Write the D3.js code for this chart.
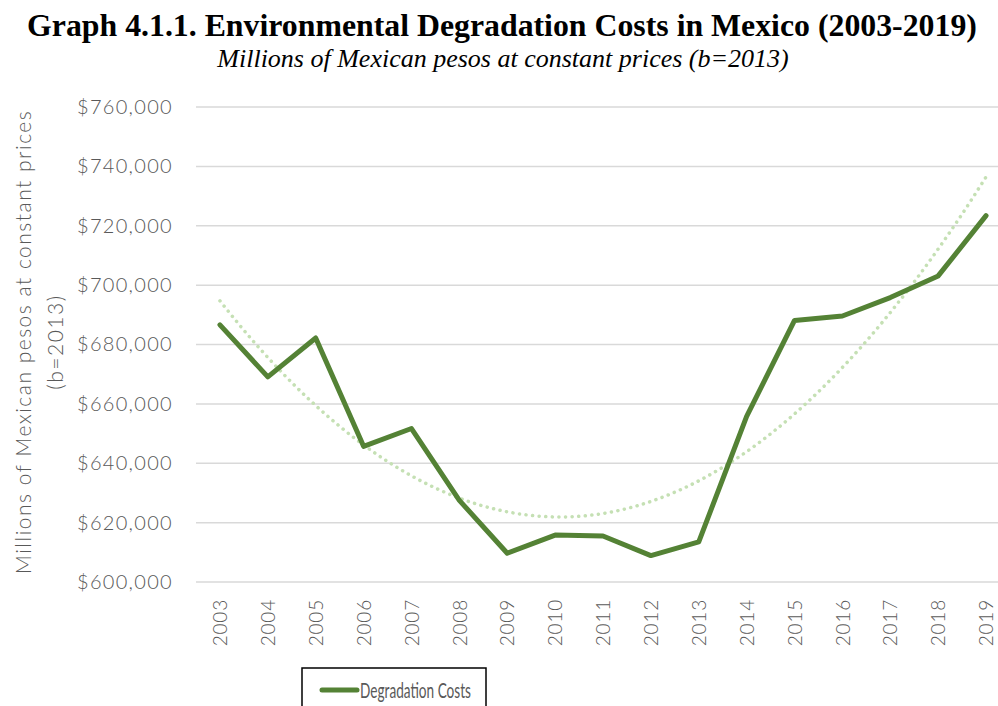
<!DOCTYPE html>
<html>
<head>
<meta charset="utf-8">
<script src="https://cdn.jsdelivr.net/npm/d3@7"></script>
<style>
  body{margin:0;background:#fff;}
  svg text{font-family:Lato,"DejaVu Sans",sans-serif;font-weight:300;fill:#595959;}
</style>
</head>
<body>
<svg width="998" height="706"></svg>
<script>
const years=[2003,2004,2005,2006,2007,2008,2009,2010,2011,2012,2013,2014,2015,2016,2017,2018,2019];
const costs=[686600,669100,682200,645700,651700,627500,609700,615800,615500,608900,613500,655800,688100,689600,695800,703100,723400];
const yTicks=[600000,620000,640000,660000,680000,700000,720000,740000,760000];

const svg=d3.select("svg");
const plotLeft=196, plotRight=1010, plotTop=107, plotBottom=582;

const x=d3.scalePoint().domain(years).range([plotLeft,plotRight]).padding(0.5);
const y=d3.scaleLinear().domain([600000,760000]).range([plotBottom,plotTop]);

// title
svg.append("text").attr("x",502).attr("y",36).attr("text-anchor","middle")
   .style("font-family","'Liberation Serif','Times New Roman',serif").style("font-weight","bold")
   .style("font-size","31.8px").style("fill","#000")
   .text("Graph 4.1.1. Environmental Degradation Costs in Mexico (2003-2019)");
svg.append("text").attr("x",503).attr("y",67).attr("text-anchor","middle")
   .style("font-family","'Liberation Serif','Times New Roman',serif").style("font-style","italic").style("font-weight","normal")
   .style("font-size","26px").style("fill","#000")
   .text("Millions of Mexican pesos at constant prices (b=2013)");

// grid
svg.append("g").selectAll("line").data(yTicks).enter().append("line")
   .attr("x1",plotLeft).attr("x2",998).attr("y1",d=>y(d)).attr("y2",d=>y(d))
   .attr("stroke","#d9d9d9").attr("stroke-width",1.5);

// y axis
const yAxis=svg.append("g").attr("transform","translate(196,0)")
   .call(d3.axisLeft(y).tickValues(yTicks).tickFormat(d3.format("$,")).tickSize(0).tickPadding(23));
yAxis.select(".domain").remove();
yAxis.selectAll("text").style("font-size","20px").style("letter-spacing","1.3px")
   .style("font-family","Lato,sans-serif").attr("fill","#595959");

// x axis
const xAxis=svg.append("g").attr("transform","translate(0,"+plotBottom+")")
   .call(d3.axisBottom(x).tickSize(0).tickFormat(d=>d));
xAxis.select(".domain").remove();
xAxis.selectAll("text").attr("transform","rotate(-90)").attr("text-anchor","end")
   .attr("x",-17).attr("y",0).attr("dy","0.35em")
   .style("font-size","19px").style("letter-spacing","0.8px")
   .style("font-family","Lato,sans-serif").attr("fill","#595959");

// y title
const yt=svg.append("text").attr("transform","translate(24,342) rotate(-90)").attr("text-anchor","middle")
   .style("font-size","21px").style("letter-spacing","1.5px");
yt.append("tspan").attr("x",0).attr("y",7).text("Millions of Mexican pesos at constant prices");
yt.append("tspan").attr("x",0).attr("y",39).text("(b=2013)");

// polynomial trend (order 2, least squares)
const n=years.length;
const xs=years.map((d,i)=>i+1);
const S=k=>d3.sum(xs,v=>Math.pow(v,k));
const T=k=>d3.sum(xs,(v,i)=>Math.pow(v,k)*costs[i]);
const A=[[n,S(1),S(2)],[S(1),S(2),S(3)],[S(2),S(3),S(4)]], B=[T(0),T(1),T(2)];
function solve(A,B){
  const M=A.map((r,i)=>r.concat([B[i]]));
  for(let i=0;i<3;i++){
    for(let j=i+1;j<3;j++){const f=M[j][i]/M[i][i];for(let k=i;k<4;k++)M[j][k]-=f*M[i][k];}
  }
  const c=[0,0,0];
  for(let i=2;i>=0;i--){let s=M[i][3];for(let k=i+1;k<3;k++)s-=M[i][k]*c[k];c[i]=s/M[i][i];}
  return c;
}
const c=solve(A,B);
const trend=d3.range(1,n+0.001,0.1).map(t=>({t:t,v:c[0]+c[1]*t+c[2]*t*t}));
const tx=d3.scaleLinear().domain([1,n]).range([x(years[0]),x(years[n-1])]);
svg.append("path").datum(trend)
   .attr("d",d3.line().x(d=>tx(d.t)).y(d=>y(d.v)))
   .attr("fill","none").attr("stroke","#c5e0b4").attr("stroke-width",3.5)
   .attr("stroke-linecap","round").attr("stroke-dasharray","0.1 6.5");

// data line
svg.append("path").datum(costs)
   .attr("d",d3.line().x((d,i)=>x(years[i])).y(d=>y(d)))
   .attr("fill","none").attr("stroke","#548235").attr("stroke-width",5)
   .attr("stroke-linejoin","round").attr("stroke-linecap","round");

// legend
const lg=svg.append("g").attr("transform","translate(302,668)");
lg.append("rect").attr("width",184).attr("height",50).attr("fill","#fff").attr("stroke","#000").attr("stroke-width",1.5);
lg.append("line").attr("x1",20).attr("x2",55).attr("y1",22).attr("y2",22)
   .attr("stroke","#548235").attr("stroke-width",5).attr("stroke-linecap","round");
lg.append("text").attr("x",58).attr("y",30).style("font-size","22px").style("font-weight","400")
   .attr("textLength",111).attr("lengthAdjust","spacingAndGlyphs").text("Degradation Costs");
</script>
</body>
</html>
